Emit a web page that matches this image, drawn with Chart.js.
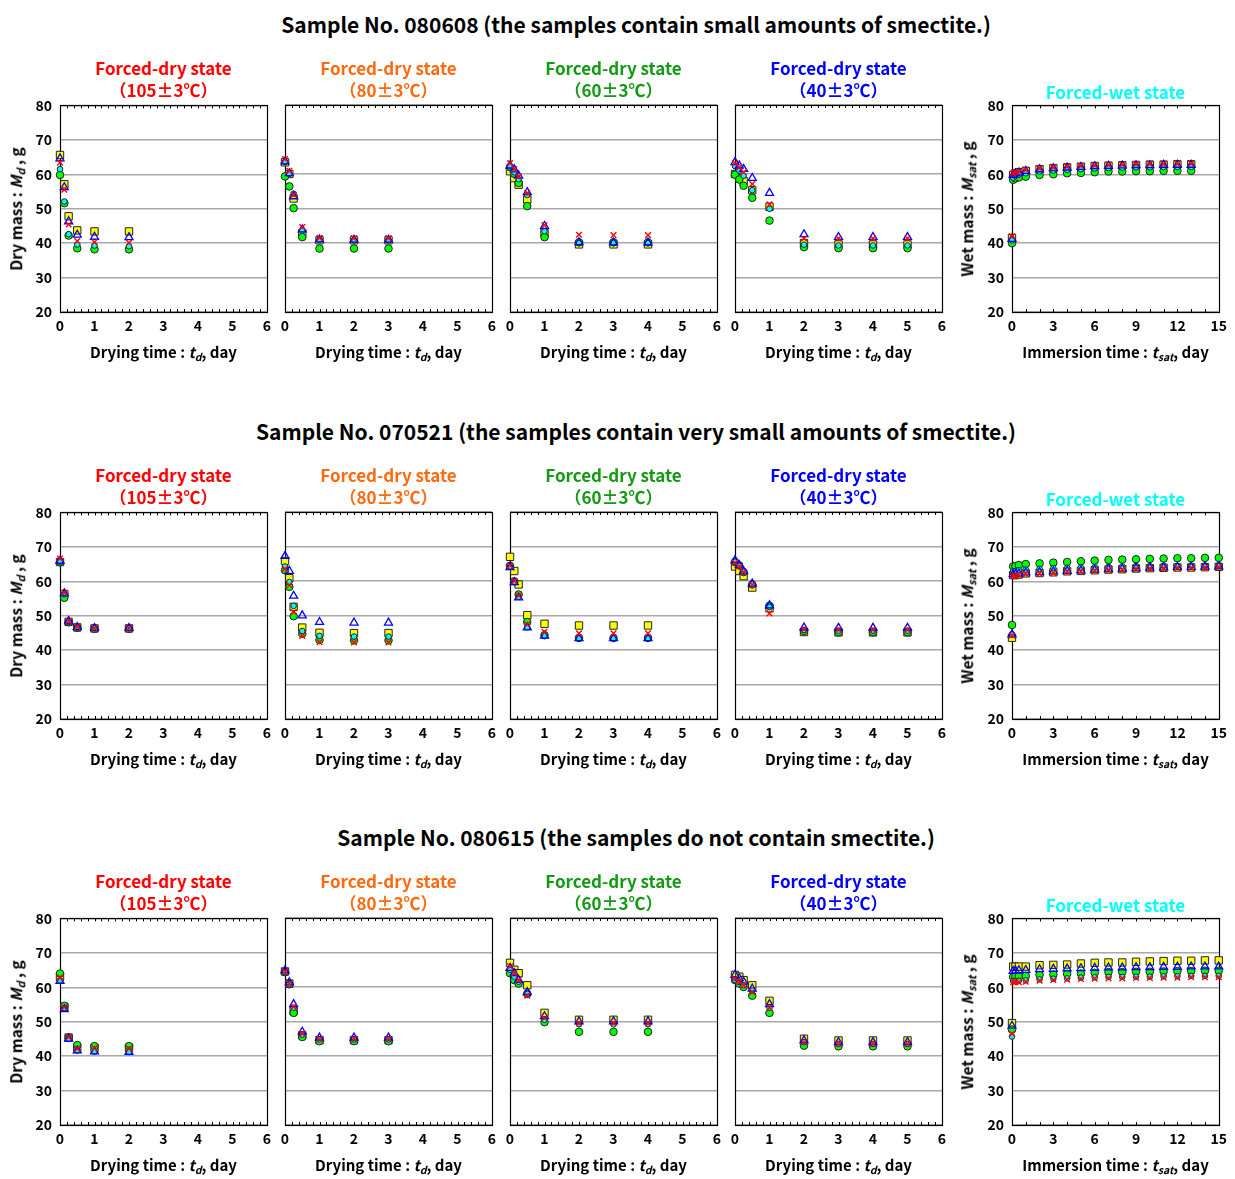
<!DOCTYPE html>
<html>
<head>
<meta charset="utf-8">
<script src="https://cdn.jsdelivr.net/npm/chart.js@4.4.1/dist/chart.umd.min.js"></script>
<style>
  body { margin: 0; background: #fff; width: 1235px; height: 1179px; position: relative; overflow: hidden;
         font-family: 'Noto Sans CJK JP', 'Noto Sans', sans-serif; }
  .t { position: absolute; white-space: nowrap; transform: translate(-50%, -50%); font-weight: bold; line-height: 1; }
  .yt { transform: translate(-50%, -50%) rotate(-90deg); }
  .t sub { font-size: 0.7em; vertical-align: -0.25em; }
  canvas { position: absolute; }
</style>
</head>
<body>
<script>
// ---- time axes (days) ----
const tDry105 = [0, 0.125, 0.25, 0.5, 1, 2];
const tDry80  = [0, 0.125, 0.25, 0.5, 1, 2, 3];
const tDry60  = [0, 0.125, 0.25, 0.5, 1, 2, 3, 4];
const tDry40  = [0, 0.125, 0.25, 0.5, 1, 2, 3, 4, 5];
const tWet13  = [0, 0.083, 0.25, 0.5, 1, 2, 3, 4, 5, 6, 7, 8, 9, 10, 11, 12, 13];
const tWet15  = [0, 0.083, 0.25, 0.5, 1, 2, 3, 4, 5, 6, 7, 8, 9, 10, 11, 12, 13, 14, 15];

// ---- Sample No. 080608 (g) ----
const A105_sq  = [65.6, 57.1, 47.8, 43.7, 43.4, 43.4];
const A105_tri = [64.6, 56.2, 46.3, 42.4, 41.8, 41.7];
const A105_x   = [63.4, 55.5, 45.4, 40.6, 40.3, 40.1];
const A105_cy  = [61.5, 52.1, 42.6, 39.6, 39.3, 39.1];
const A105_gr  = [59.8, 51.6, 42.2, 38.5, 38.2, 38.2];

const A80_sq  = [63.4, 60.0, 52.9, 42.8, 40.8, 40.8, 40.8];
const A80_tri = [63.6, 60.2, 53.5, 43.9, 41.0, 40.9, 40.9];
const A80_x   = [64.3, 60.9, 54.0, 44.6, 41.5, 41.4, 41.4];
const A80_cy  = [63.5, 60.0, 54.3, 43.6, 40.9, 40.8, 40.8];
const A80_gr  = [59.3, 56.4, 50.1, 41.7, 38.4, 38.4, 38.4];

const A60_sq  = [60.8, 58.8, 56.9, 52.6, 42.9, 39.6, 39.6, 39.6];
const A60_tri = [62.4, 61.3, 59.5, 54.7, 44.9, 40.2, 40.1, 40.1];
const A60_x   = [63.2, 61.4, 59.3, 54.5, 45.1, 42.4, 42.3, 42.3];
const A60_cy  = [62.2, 60.5, 58.5, 53.9, 43.4, 40.0, 40.0, 40.0];
const A60_gr  = [62.0, 60.1, 57.4, 50.7, 41.7, 40.2, 40.2, 40.2];

const A40_sq  = [60.0, 58.8, 57.9, 55.3, 50.5, 40.0, 39.6, 39.6, 39.6];
const A40_tri = [63.4, 62.4, 61.4, 58.8, 54.5, 42.5, 41.7, 41.7, 41.7];
const A40_x   = [63.2, 62.0, 60.5, 57.1, 51.2, 41.3, 41.3, 41.3, 41.3];
const A40_cy  = [62.3, 61.0, 59.5, 55.3, 49.9, 39.5, 39.3, 39.3, 39.3];
const A40_gr  = [59.8, 58.4, 56.6, 53.1, 46.5, 38.8, 38.5, 38.5, 38.5];

const AW_sq  = [41.5, 59.8, 60.3, 60.6, 61.0, 61.5, 61.8, 62.0, 62.2, 62.4, 62.5, 62.6, 62.7, 62.8, 62.8, 62.9, 62.9];
const AW_tri = [41.2, 59.8, 60.2, 60.5, 60.9, 61.4, 61.7, 61.9, 62.1, 62.3, 62.4, 62.5, 62.6, 62.6, 62.7, 62.7, 62.7];
const AW_x   = [42.0, 60.3, 60.6, 60.8, 61.3, 61.7, 62.0, 62.2, 62.4, 62.6, 62.7, 62.8, 62.9, 63.0, 63.0, 63.1, 63.1];
const AW_cy  = [40.8, 59.0, 59.5, 59.9, 60.3, 60.8, 61.1, 61.3, 61.5, 61.7, 61.8, 61.9, 62.0, 62.0, 62.1, 62.1, 62.1];
const AW_gr  = [40.0, 58.4, 58.8, 59.1, 59.3, 59.8, 60.0, 60.3, 60.4, 60.6, 60.8, 60.8, 60.9, 60.9, 61.0, 61.0, 61.0];

// ---- Sample No. 070521 (g) ----
const B105_sq  = [65.6, 56.3, 48.2, 46.6, 46.3, 46.3];
const B105_tri = [65.9, 56.5, 48.4, 46.7, 46.4, 46.4];
const B105_x   = [66.6, 56.6, 48.4, 46.8, 46.4, 46.4];
const B105_cy  = [65.7, 56.2, 48.2, 46.5, 46.3, 46.3];
const B105_gr  = [65.5, 55.2, 48.1, 46.5, 46.2, 46.2];

const B80_sq  = [65.8, 60.8, 52.5, 46.5, 45.0, 44.9, 44.9];
const B80_tri = [67.2, 62.9, 55.7, 50.0, 48.1, 47.9, 47.9];
const B80_x   = [63.5, 58.8, 51.0, 44.1, 42.3, 42.2, 42.2];
const B80_cy  = [64.2, 59.7, 52.8, 45.5, 44.1, 43.9, 43.9];
const B80_gr  = [63.1, 58.3, 49.8, 44.7, 42.9, 42.8, 42.8];

const B60_sq  = [67.0, 62.9, 59.0, 50.1, 47.6, 47.1, 47.1, 47.1];
const B60_tri = [64.0, 59.6, 55.2, 46.5, 44.1, 43.4, 43.4, 43.4];
const B60_x   = [64.5, 60.0, 55.8, 47.4, 45.3, 44.8, 44.8, 44.8];
const B60_cy  = [64.2, 59.8, 55.4, 46.6, 44.1, 43.4, 43.4, 43.4];
const B60_gr  = [64.4, 59.9, 56.1, 48.1, 44.3, 43.5, 43.5, 43.5];

const B40_sq  = [64.2, 62.9, 61.4, 58.1, 52.1, 45.2, 45.1, 45.1, 45.1];
const B40_tri = [66.0, 64.6, 62.8, 59.2, 52.9, 46.5, 46.4, 46.4, 46.4];
const B40_x   = [65.3, 64.2, 62.6, 58.9, 50.6, 46.0, 45.9, 45.9, 45.9];
const B40_cy  = [65.6, 64.4, 62.7, 59.0, 52.5, 45.8, 45.6, 45.6, 45.6];
const B40_gr  = [65.5, 64.5, 62.6, 59.0, 52.8, 45.5, 45.2, 45.2, 45.2];

const BW_sq  = [43.6, 61.8, 61.8, 62.0, 62.3, 62.4, 62.6, 62.9, 63.0, 63.2, 63.4, 63.5, 63.7, 63.8, 63.9, 64.0, 64.0, 64.1, 64.2];
const BW_tri = [44.5, 62.0, 62.1, 62.2, 62.5, 62.6, 62.8, 63.0, 63.1, 63.3, 63.5, 63.6, 63.8, 63.9, 64.0, 64.1, 64.1, 64.2, 64.3];
const BW_x   = [44.3, 61.6, 61.6, 61.8, 62.1, 62.2, 62.4, 62.8, 62.9, 63.1, 63.3, 63.4, 63.6, 63.7, 63.8, 63.9, 63.9, 64.0, 64.1];
const BW_cy  = [44.6, 62.9, 63.0, 63.2, 63.4, 63.6, 63.8, 63.9, 64.0, 64.1, 64.2, 64.3, 64.4, 64.4, 64.5, 64.5, 64.6, 64.6, 64.6];
const BW_gr  = [47.3, 64.3, 64.4, 64.7, 65.0, 65.2, 65.4, 65.6, 65.8, 66.0, 66.2, 66.3, 66.4, 66.5, 66.6, 66.7, 66.7, 66.8, 66.8];

// ---- Sample No. 080615 (g) ----
const C105_sq  = [63.0, 54.3, 45.4, 42.5, 42.4, 42.4];
const C105_tri = [61.8, 53.6, 45.0, 41.6, 41.3, 41.2];
const C105_x   = [62.8, 54.2, 45.5, 42.2, 42.3, 42.2];
const C105_cy  = [62.0, 54.0, 45.0, 41.6, 41.3, 41.2];
const C105_gr  = [64.0, 54.6, 45.4, 43.2, 42.9, 42.9];

const C80_sq  = [64.5, 61.0, 53.0, 46.0, 44.6, 44.6, 44.6];
const C80_tri = [64.8, 61.3, 55.0, 47.0, 45.3, 45.3, 45.3];
const C80_x   = [64.5, 61.0, 54.3, 46.5, 45.0, 45.0, 45.0];
const C80_cy  = [64.3, 60.8, 54.0, 46.2, 44.8, 44.8, 44.8];
const C80_gr  = [64.3, 60.8, 52.5, 45.5, 44.3, 44.3, 44.3];

const C60_sq  = [67.0, 65.0, 64.0, 60.5, 52.5, 50.5, 50.5, 50.5];
const C60_tri = [65.5, 64.0, 62.0, 58.5, 51.5, 50.0, 50.0, 50.0];
const C60_x   = [66.0, 64.0, 62.0, 57.5, 51.0, 49.5, 49.5, 49.5];
const C60_cy  = [65.0, 63.0, 61.5, 58.0, 50.5, 49.2, 49.2, 49.2];
const C60_gr  = [64.0, 62.0, 61.0, 58.0, 49.8, 47.0, 47.0, 47.0];

const C40_sq  = [63.5, 63.0, 62.0, 60.5, 56.0, 45.0, 44.5, 44.5, 44.5];
const C40_tri = [63.5, 62.5, 61.5, 59.5, 55.0, 44.5, 44.0, 44.0, 44.0];
const C40_x   = [62.5, 61.5, 60.5, 58.5, 54.0, 44.0, 43.5, 43.5, 43.5];
const C40_cy  = [62.0, 61.5, 60.5, 59.0, 54.0, 44.0, 43.5, 43.5, 43.5];
const C40_gr  = [62.0, 61.0, 60.0, 57.5, 52.5, 43.0, 42.8, 42.8, 42.8];

const CW_sq  = [49.6, 66.0, 66.0, 66.0, 66.0, 66.4, 66.5, 66.6, 66.9, 67.1, 67.2, 67.2, 67.4, 67.5, 67.6, 67.7, 67.7, 67.8, 67.8];
const CW_tri = [48.8, 64.7, 64.8, 64.9, 65.0, 65.2, 65.3, 65.4, 65.5, 65.6, 65.7, 65.7, 65.8, 65.8, 65.9, 65.9, 66.0, 66.0, 66.0];
const CW_x   = [46.5, 61.5, 61.5, 61.5, 61.6, 61.9, 62.1, 62.2, 62.4, 62.5, 62.6, 62.6, 62.7, 62.7, 62.8, 62.8, 62.9, 62.9, 62.9];
const CW_cy  = [45.7, 61.8, 61.8, 61.9, 62.0, 62.3, 62.5, 62.6, 62.8, 62.9, 63.0, 63.0, 63.1, 63.1, 63.2, 63.2, 63.3, 63.3, 63.3];
const CW_gr  = [47.7, 63.0, 63.1, 63.2, 63.3, 63.6, 63.7, 63.9, 64.0, 64.2, 64.4, 64.4, 64.5, 64.5, 64.6, 64.7, 64.7, 64.8, 64.8];

// ---- text ----
const sampleTitles = [
  'Sample No. 080608 (the samples contain small amounts of smectite.)',
  'Sample No. 070521 (the samples contain very small amounts of smectite.)',
  'Sample No. 080615 (the samples do not contain smectite.)'
];
const dryTemps = ['（105±3℃）', '（80±3℃）', '（60±3℃）', '（40±3℃）'];
const dryColors = ['#ff0000', '#ff6a10', '#129a12', '#0000ff'];
const wetColor = '#00ffff';

// ---- layout ----
const rowTop = [105, 512, 918];
const colLeft = [60, 285, 510, 735, 1012];
const PW = 207, PH = 207;
const AXW = 45, AXH = 30, PADT = 10, PADR = 10;

const panels = [
  { r: 0, c: 0, t: tDry105, s: [A105_sq, A105_tri, A105_x, A105_cy, A105_gr] },
  { r: 0, c: 1, t: tDry80,  s: [A80_sq, A80_tri, A80_x, A80_cy, A80_gr] },
  { r: 0, c: 2, t: tDry60,  s: [A60_sq, A60_tri, A60_x, A60_cy, A60_gr] },
  { r: 0, c: 3, t: tDry40,  s: [A40_sq, A40_tri, A40_x, A40_cy, A40_gr] },
  { r: 0, c: 4, t: tWet13,  s: [AW_sq, AW_tri, AW_x, AW_cy, AW_gr] },
  { r: 1, c: 0, t: tDry105, s: [B105_sq, B105_tri, B105_x, B105_cy, B105_gr] },
  { r: 1, c: 1, t: tDry80,  s: [B80_sq, B80_tri, B80_x, B80_cy, B80_gr] },
  { r: 1, c: 2, t: tDry60,  s: [B60_sq, B60_tri, B60_x, B60_cy, B60_gr] },
  { r: 1, c: 3, t: tDry40,  s: [B40_sq, B40_tri, B40_x, B40_cy, B40_gr] },
  { r: 1, c: 4, t: tWet15,  s: [BW_sq, BW_tri, BW_x, BW_cy, BW_gr] },
  { r: 2, c: 0, t: tDry105, s: [C105_sq, C105_tri, C105_x, C105_cy, C105_gr] },
  { r: 2, c: 1, t: tDry80,  s: [C80_sq, C80_tri, C80_x, C80_cy, C80_gr] },
  { r: 2, c: 2, t: tDry60,  s: [C60_sq, C60_tri, C60_x, C60_cy, C60_gr] },
  { r: 2, c: 3, t: tDry40,  s: [C40_sq, C40_tri, C40_x, C40_cy, C40_gr] },
  { r: 2, c: 4, t: tWet15,  s: [CW_sq, CW_tri, CW_x, CW_cy, CW_gr] }
];

// marker styles: square, triangle, cross, small circle, circle
const markers = [
  { pointStyle: 'rect',     radius: 5.2, bg: '#ffff00', border: '#222', bw: 1 },
  { pointStyle: 'triangle', radius: 4.6, bg: 'rgba(255,255,255,0)', border: '#0000ff', bw: 1.3 },
  { pointStyle: 'crossRot', radius: 4.0, bg: 'rgba(0,0,0,0)', border: '#ff0000', bw: 1.4 },
  { pointStyle: 'circle',   radius: 2.8, bg: '#00ffff', border: '#222', bw: 1 },
  { pointStyle: 'circle',   radius: 3.8, bg: '#00ff00', border: '#222', bw: 1 }
];
// drawing order, top-most first
const drawOrder = [2, 1, 3, 4, 0];

function addText(html, x, y, size, color, cls) {
  const d = document.createElement('div');
  d.className = 't' + (cls ? ' ' + cls : '');
  d.style.left = x + 'px';
  d.style.top = y + 'px';
  d.style.fontSize = size + 'px';
  d.style.color = color;
  d.innerHTML = html;
  document.body.appendChild(d);
}

// plot frame plus inward minor ticks
const framePlugin = {
  id: 'frame',
  beforeDatasetsDraw(chart, args, opts) {
    const { ctx, chartArea: a, scales: { x } } = chart;
    ctx.save();
    ctx.strokeStyle = '#000';
    ctx.lineWidth = 1;
    ctx.beginPath();
    for (let v = opts.minor; v < x.max - 1e-9; v += opts.minor) {
      const px = Math.round(x.getPixelForValue(v)) + 0.5;
      ctx.moveTo(px, a.top); ctx.lineTo(px, a.top + 3);
      ctx.moveTo(px, a.bottom); ctx.lineTo(px, a.bottom - 3);
    }
    ctx.stroke();
    ctx.lineWidth = 1.2;
    ctx.strokeRect(Math.round(a.left) + 0.5, Math.round(a.top) + 0.5,
                   Math.round(a.right - a.left), Math.round(a.bottom - a.top));
    ctx.restore();
  }
};

const tickFont = { family: "'Noto Sans CJK JP', sans-serif", size: 14, weight: 'bold' };

function makeConfig(p) {
  const wet = p.c === 4;
  const datasets = drawOrder.map(k => ({
    data: p.t.map((t, i) => ({ x: t, y: p.s[k][i] })),
    pointStyle: markers[k].pointStyle,
    pointRadius: markers[k].radius,
    pointBackgroundColor: markers[k].bg,
    pointBorderColor: markers[k].border,
    pointBorderWidth: markers[k].bw,
    showLine: false,
    clip: false
  }));
  return {
    type: 'scatter',
    data: { datasets },
    options: {
      responsive: false,
      maintainAspectRatio: false,
      animation: false,
      devicePixelRatio: 1,
      layout: { padding: { top: PADT, right: PADR, left: 0, bottom: 0 } },
      plugins: { legend: { display: false }, tooltip: { enabled: false },
                 frame: { minor: wet ? 1 : 0.2 } },
      scales: {
        x: {
          type: 'linear', min: 0, max: wet ? 15 : 6,
          ticks: { stepSize: wet ? 3 : 1, font: tickFont, color: '#000', padding: 5, maxRotation: 0, autoSkip: false },
          grid: { display: false, drawTicks: false },
          border: { display: false },
          afterFit(s) { s.height = AXH; }
        },
        y: {
          min: 20, max: 80,
          ticks: { stepSize: 10, font: tickFont, color: '#000', padding: 8,
                   display: p.c === 0 || wet },
          grid: { color: '#a8a8a8', lineWidth: 1.5, drawTicks: false },
          border: { display: false },
          afterFit(s) { s.width = AXW; }
        }
      }
    },
    plugins: [framePlugin]
  };
}

panels.forEach(p => {
  const wet = p.c === 4;
  const left = colLeft[p.c], top = rowTop[p.r];
  const cv = document.createElement('canvas');
  cv.width = PW + AXW + PADR;
  cv.height = PH + AXH + PADT;
  document.body.appendChild(cv);

  // first pass: measure the plot area, then size the canvas so the plot is PW x PH
  let chart = new Chart(cv, makeConfig(p));
  const a = chart.chartArea;
  const w = Math.round(cv.width + PW - (a.right - a.left));
  const h = Math.round(cv.height + PH - (a.bottom - a.top));
  chart.destroy();
  cv.width = w;
  cv.height = h;
  chart = new Chart(cv, makeConfig(p));
  const b = chart.chartArea;
  cv.style.left = Math.round(left - b.left) + 'px';
  cv.style.top = Math.round(top - b.top) + 'px';

  const cx = left + PW / 2, cy = top + PH / 2;
  if (wet) {
    addText('Forced-wet state', cx, top - 14, 17, wetColor);
    addText('Immersion time : <i>t<sub>sat</sub></i>, day', cx, top + PH + 41, 15, '#000');
    addText('Wet mass : <i>M<sub>sat</sub></i> , g', left - 44, cy, 15.5, '#000', 'yt');
  } else {
    addText('Forced-dry state', cx, top - 38, 17, dryColors[p.c]);
    addText(dryTemps[p.c], cx, top - 16, 17, dryColors[p.c]);
    addText('Drying time : <i>t<sub>d</sub></i>, day', cx, top + PH + 41, 15, '#000');
    if (p.c === 0) addText('Dry mass : <i>M<sub>d</sub></i> , g', left - 43, cy, 15.5, '#000', 'yt');
  }
});

sampleTitles.forEach((s, r) => addText(s, 636, rowTop[r] - 81, 21, '#000'));
</script>
</body>
</html>
